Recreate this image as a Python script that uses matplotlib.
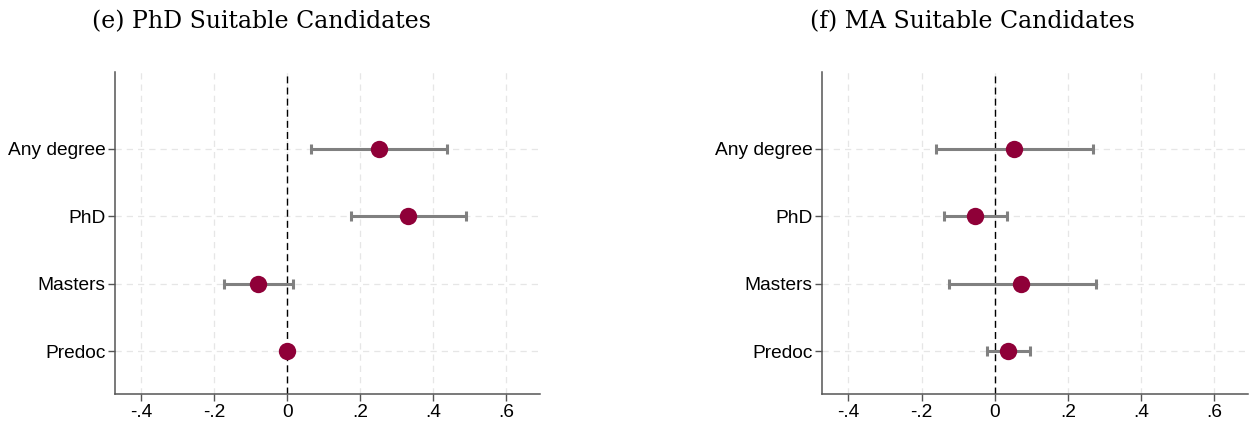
import matplotlib
matplotlib.use("Agg")
import matplotlib.pyplot as plt
import numpy as np

categories = ["Any degree", "PhD", "Masters", "Predoc"]

# Panel (e) PhD Suitable Candidates
e_coef = [0.252, 0.331, -0.081, 0.0]
e_lo = [0.065, 0.173, -0.173, 0.0]
e_hi = [0.438, 0.489, 0.015, 0.0]

# Panel (f) MA Suitable Candidates
f_coef = [0.052, -0.053, 0.072, 0.036]
f_lo = [-0.161, -0.139, -0.126, -0.020]
f_hi = [0.268, 0.034, 0.276, 0.097]

xticks = [-0.4, -0.2, 0, 0.2, 0.4, 0.6]
xticklabels = ["-.4", "-.2", "0", ".2", ".4", ".6"]

titles = ["(e) PhD Suitable Candidates", "(f) MA Suitable Candidates"]

W, H = 1253, 423
fig = plt.figure(figsize=(W / 100, H / 100), dpi=100)

panels = [
    (e_coef, e_lo, e_hi, [115, 540], 262),
    (f_coef, f_lo, f_hi, [822, 1248], 972),
]
top_px, bot_px = 72, 394

marker_color = "#8F0038"
ci_color = "#808080"
spine_color = "#555555"

for i, (coef, lo, hi, (x0, x1), tcx) in enumerate(panels):
    ax = fig.add_axes([x0 / W, (H - bot_px) / H, (x1 - x0) / W, (bot_px - top_px) / H])
    n = len(categories)
    ypos = np.arange(n, 0, -1)  # Any degree at top
    coef = np.array(coef)
    lo = np.array(lo)
    hi = np.array(hi)
    has_ci = hi > lo
    ax.errorbar(coef[has_ci], ypos[has_ci],
                xerr=[coef[has_ci] - lo[has_ci], hi[has_ci] - coef[has_ci]],
                fmt="none", ecolor=ci_color, elinewidth=2.2, capsize=3.5,
                capthick=2.2, zorder=3)
    ax.plot(coef, ypos, "o", color=marker_color, markersize=12.5, zorder=4,
            markeredgewidth=0)
    ax.axvline(0, color="black", linestyle=(0, (5, 3)), linewidth=1.0, zorder=2)

    ax.set_xlim(-0.472, 0.692)
    ax.set_ylim(0.365, 5.14)
    ax.set_xticks(xticks)
    ax.set_xticklabels(xticklabels, fontsize=13.8, family="Liberation Sans")
    ax.set_yticks(ypos)
    ax.set_yticklabels(categories, fontsize=13.8, family="Liberation Sans")
    ax.grid(True, color="#e6e6e6", linestyle=(0, (5, 4)), linewidth=0.9, zorder=0)
    ax.set_axisbelow(True)
    for s in ["top", "right"]:
        ax.spines[s].set_visible(False)
    for s in ["left", "bottom"]:
        ax.spines[s].set_color(spine_color)
        ax.spines[s].set_linewidth(1.1)
    ax.tick_params(axis="both", direction="out", length=5, width=1.0,
                   color=spine_color, pad=2)

    fig.text(tcx / W, 1 - 22 / H, titles[i], ha="center", va="center",
             fontsize=17, family="DejaVu Serif")

fig.savefig("out.png", dpi=100)
